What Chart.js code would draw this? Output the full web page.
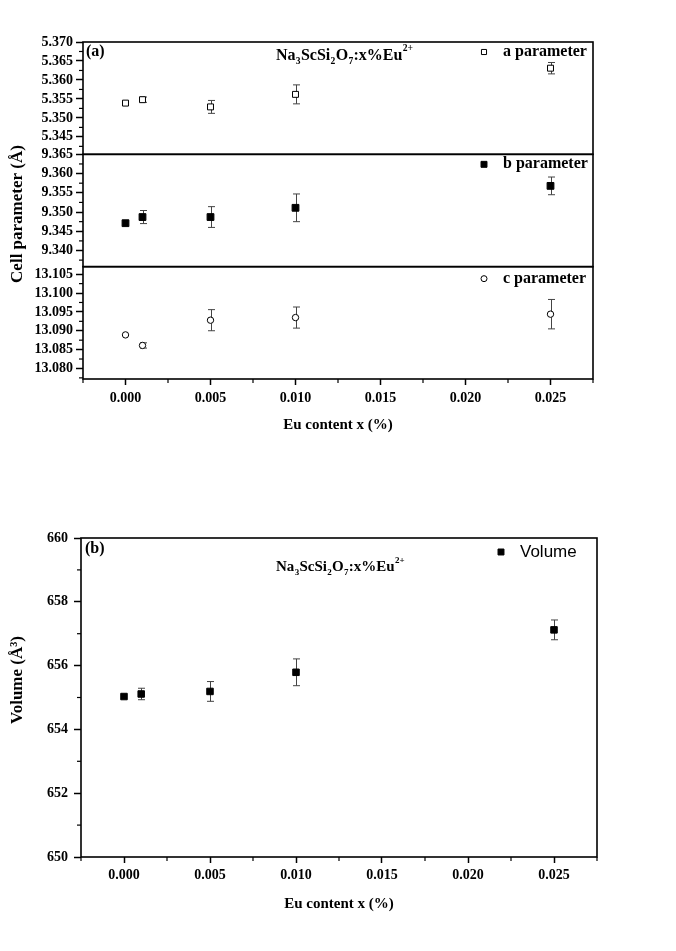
<!DOCTYPE html>
<html><head><meta charset="utf-8">
<script src="https://cdn.jsdelivr.net/npm/chart.js@4.4.1/dist/chart.umd.min.js"></script>
<style>
html,body{margin:0;padding:0;background:#fff;width:676px;height:951px;overflow:hidden}
canvas{position:absolute;left:0}
#ca{top:0}
#cb{top:480px}
</style></head><body>
<canvas id="ca" width="676" height="450"></canvas>
<canvas id="cb" width="676" height="471"></canvas>
<script>
// ---------- data ----------
const euContent = [0, 0.001, 0.005, 0.010, 0.025];
const aParam = [5.3539, 5.3548, 5.3529, 5.3562, 5.3631];
const aErr   = [0, 0.0007, 0.0017, 0.0025, 0.0015];
const bParam = [9.3471, 9.3487, 9.3487, 9.3511, 9.3568];
const bErr   = [0, 0.0017, 0.0027, 0.0036, 0.0023];
const cParam = [13.0889, 13.0861, 13.0928, 13.0935, 13.0944];
const cErr   = [0, 0.0007, 0.0028, 0.0028, 0.0039];
const volume = [655.03, 655.11, 655.19, 655.79, 657.12];
const volErr = [0, 0.18, 0.31, 0.42, 0.31];

const xTicks = [0, 0.005, 0.010, 0.015, 0.020, 0.025];
const aTicks = [5.345, 5.350, 5.355, 5.360, 5.365, 5.370];
const bTicks = [9.340, 9.345, 9.350, 9.355, 9.360, 9.365];
const cTicks = [13.080, 13.085, 13.090, 13.095, 13.100, 13.105];
const vTicks = [650, 652, 654, 656, 658, 660];

const seriesNames = ['a parameter', 'b parameter', 'c parameter'];
const volName = 'Volume';
const xTitle = 'Eu content x (%)';
const yTitleA = 'Cell parameter (\u00C5)';
const yTitleB = 'Volume (\u00C5\u00B3)';
const formula = [['Na',0],['3',1],['ScSi',0],['2',1],['O',0],['7',1],[':x%Eu',0],['2+',2]];

// ---------- helpers ----------
const serif = "'Liberation Serif','Times New Roman',serif";
const sans = "'Liberation Sans',Arial,sans-serif";
const pts = (ys) => euContent.map((x, i) => ({x, y: ys[i]}));

function drawRich(ctx, x, y, parts, size) {
  ctx.save();
  ctx.textBaseline = 'alphabetic';
  ctx.textAlign = 'left';
  ctx.fillStyle = '#000';
  for (const [t, m] of parts) {
    const fs = m === 0 ? size : size * 0.6;
    ctx.font = 'bold ' + fs + 'px ' + serif;
    const dy = m === 1 ? size * 0.28 : (m === 2 ? -size * 0.55 : 0);
    ctx.fillText(t, x, y + dy);
    x += ctx.measureText(t).width + 0.3;
  }
  ctx.restore();
}
function drawText(ctx, t, x, y, font, align, rot) {
  ctx.save();
  ctx.font = font; ctx.fillStyle = '#000';
  ctx.textAlign = align || 'left'; ctx.textBaseline = 'middle';
  ctx.translate(x, y);
  if (rot) ctx.rotate(rot);
  ctx.fillText(t, 0, 0);
  ctx.restore();
}
function minorTicks(ctx, scale, ticks, horizontal, area, len) {
  const step = (ticks[1] - ticks[0]) / 2;
  ctx.save(); ctx.strokeStyle = '#000'; ctx.lineWidth = 1.2;
  const k0 = Math.floor((scale.min - ticks[0]) / step) - 1;
  const k1 = Math.ceil((scale.max - ticks[0]) / step) + 1;
  for (let k = k0; k <= k1; k++) {
    if (k % 2 === 0) continue;
    const v = ticks[0] + k * step;
    if (v < scale.min - 1e-9 || v > scale.max + 1e-9) continue;
    const p = scale.getPixelForValue(v);
    ctx.beginPath();
    if (horizontal) { ctx.moveTo(p, area.bottom); ctx.lineTo(p, area.bottom + len); }
    else { ctx.moveTo(area.left, p); ctx.lineTo(area.left - len, p); }
    ctx.stroke();
  }
  ctx.restore();
}
function errorBars(chart, errs) {
  const ctx = chart.ctx, xs = chart.scales.x;
  ctx.save(); ctx.strokeStyle = '#444'; ctx.lineWidth = 1;
  chart.data.datasets.forEach((ds, i) => {
    const ys = chart.scales[ds.yAxisID || 'y'];
    const e = errs[i];
    ds.data.forEach((p, j) => {
      if (!e[j]) return;
      const px = Math.round(xs.getPixelForValue(p.x)) + 0.5;
      const y1 = ys.getPixelForValue(p.y - e[j]);
      const y2 = ys.getPixelForValue(p.y + e[j]);
      ctx.beginPath();
      ctx.moveTo(px, y1); ctx.lineTo(px, y2);
      ctx.moveTo(px - 3.5, y1); ctx.lineTo(px + 3.5, y1);
      ctx.moveTo(px - 3.5, y2); ctx.lineTo(px + 3.5, y2);
      ctx.stroke();
    });
  });
  ctx.restore();
}
function drawMarker(ctx, style, x, y, r, fill) {
  ctx.save();
  ctx.strokeStyle = '#000'; ctx.fillStyle = fill; ctx.lineWidth = 1;
  Chart.helpers.drawPoint(ctx, {pointStyle: style, radius: r, borderWidth: 1}, x, y);
  ctx.restore();
}

const tickFont = {family: serif, size: 14, weight: 'bold'};
function yAxis(min, max, ticks, stackWeight, weight, width, pad) {
  return {
    type: 'linear', position: 'left', min, max,
    stack: stackWeight ? 'cell' : undefined, stackWeight: stackWeight || 1, weight: weight || 0,
    afterBuildTicks: s => { s.ticks = ticks.map(v => ({value: v})); },
    afterFit: s => { s.width = width; },
    grid: {drawOnChartArea: false, tickLength: 7, tickColor: '#000', tickWidth: 1.5},
    border: {display: false},
    ticks: {font: tickFont, color: '#000', padding: pad, autoSkip: false,
      callback: v => (max < 100 ? v.toFixed(3) : v.toFixed(0))}
  };
}
function xAxis(height, titlePad, labelPad) {
  return {
    type: 'linear', position: 'bottom', min: -0.0025, max: 0.0275,
    afterBuildTicks: s => { s.ticks = xTicks.map(v => ({value: v})); },
    afterFit: s => { s.height = height; },
    grid: {drawOnChartArea: false, tickLength: 6, tickColor: '#000', tickWidth: 1.5},
    border: {display: false},
    ticks: {font: tickFont, color: '#000', padding: labelPad, maxRotation: 0, autoSkip: false, callback: v => v.toFixed(3)},
    title: {display: true, text: xTitle, color: '#000',
      font: {family: serif, size: 15, weight: 'bold'}, padding: {top: 0, bottom: titlePad}}
  };
}

// ---------- chart (a) ----------
const plugA = {
  id: 'plugA',
  beforeDatasetsDraw(chart) { errorBars(chart, [aErr, bErr, cErr]); },
  afterDraw(chart) {
    const ctx = chart.ctx, area = chart.chartArea;
    ctx.save(); ctx.strokeStyle = '#000'; ctx.lineWidth = 1.6;
    for (const id of ['ya', 'yb', 'yc']) {
      const s = chart.scales[id];
      ctx.strokeRect(area.left, s.top, area.right - area.left, s.bottom - s.top);
    }
    ctx.restore();
    minorTicks(ctx, chart.scales.ya, aTicks, false, area, 4);
    minorTicks(ctx, chart.scales.yb, bTicks, false, area, 4);
    minorTicks(ctx, chart.scales.yc, cTicks, false, area, 4);
    minorTicks(ctx, chart.scales.x, xTicks, true, area, 4);
    const f16 = 'bold 16px ' + serif;
    drawText(ctx, '(a)', area.left + 3, 52, f16);
    drawRich(ctx, 276, 60, formula, 16);
    const ys = [chart.scales.ya.top + 10, chart.scales.yb.top + 10, chart.scales.yc.top + 12];
    const styles = [['rect', 3.6, '#fff'], ['rect', 4.2, '#000'], ['circle', 3, '#fff']];
    seriesNames.forEach((n, i) => {
      drawMarker(ctx, styles[i][0], 484, ys[i], styles[i][1], styles[i][2]);
      drawText(ctx, n, 503, ys[i], f16);
    });
    drawText(ctx, yTitleA, 18, 214, 'bold 17px ' + serif, 'center', -Math.PI / 2);
  }
};
new Chart(document.getElementById('ca'), {
  type: 'scatter',
  data: {datasets: [
    {data: pts(aParam), yAxisID: 'ya', pointStyle: 'rect', pointRadius: 4.2, backgroundColor: '#fff', borderColor: '#000', borderWidth: 1},
    {data: pts(bParam), yAxisID: 'yb', pointStyle: 'rect', pointRadius: 4.8, backgroundColor: '#000', borderColor: '#000', borderWidth: 1},
    {data: pts(cParam), yAxisID: 'yc', pointStyle: 'circle', pointRadius: 3.2, backgroundColor: '#fff', borderColor: '#000', borderWidth: 1}
  ]},
  options: {
    responsive: false, animation: false,
    layout: {padding: {top: 42, right: 83, bottom: 0, left: 0}},
    plugins: {legend: {display: false}, tooltip: {enabled: false}},
    scales: {
      x: xAxis(71, 16, 5),
      ya: yAxis(5.3404, 5.370, aTicks, 1, 3, 83, 3),
      yb: yAxis(9.3358, 9.365, bTicks, 1, 2, 83, 3),
      yc: yAxis(13.0772, 13.107, cTicks, 1, 1, 83, 3)
    }
  },
  plugins: [plugA]
});

// ---------- chart (b) ----------
const plugB = {
  id: 'plugB',
  beforeDatasetsDraw(chart) { errorBars(chart, [volErr]); },
  afterDraw(chart) {
    const ctx = chart.ctx, area = chart.chartArea;
    ctx.save(); ctx.strokeStyle = '#000'; ctx.lineWidth = 1.6;
    ctx.strokeRect(area.left, area.top, area.right - area.left, area.bottom - area.top);
    ctx.restore();
    minorTicks(ctx, chart.scales.y, vTicks, false, area, 4);
    minorTicks(ctx, chart.scales.x, xTicks, true, area, 4);
    drawText(ctx, '(b)', area.left + 4, 69, 'bold 16px ' + serif);
    drawRich(ctx, 276, 91, formula, 15);
    drawMarker(ctx, 'rect', 501, 72, 4.2, '#000');
    drawText(ctx, volName, 520, 72, '17px ' + sans);
    drawText(ctx, yTitleB, 18, 200, 'bold 17px ' + serif, 'center', -Math.PI / 2);
  }
};
new Chart(document.getElementById('cb'), {
  type: 'scatter',
  data: {datasets: [
    {data: pts(volume), yAxisID: 'y', pointStyle: 'rect', pointRadius: 4.6, backgroundColor: '#000', borderColor: '#000', borderWidth: 1}
  ]},
  options: {
    responsive: false, animation: false,
    layout: {padding: {top: 58, right: 79, bottom: 0, left: 0}},
    plugins: {legend: {display: false}, tooltip: {enabled: false}},
    scales: {
      x: xAxis(94, 38, 4),
      y: yAxis(650, 660, vTicks, 0, 0, 81, 6)
    }
  },
  plugins: [plugB]
});
</script>
</body></html>
